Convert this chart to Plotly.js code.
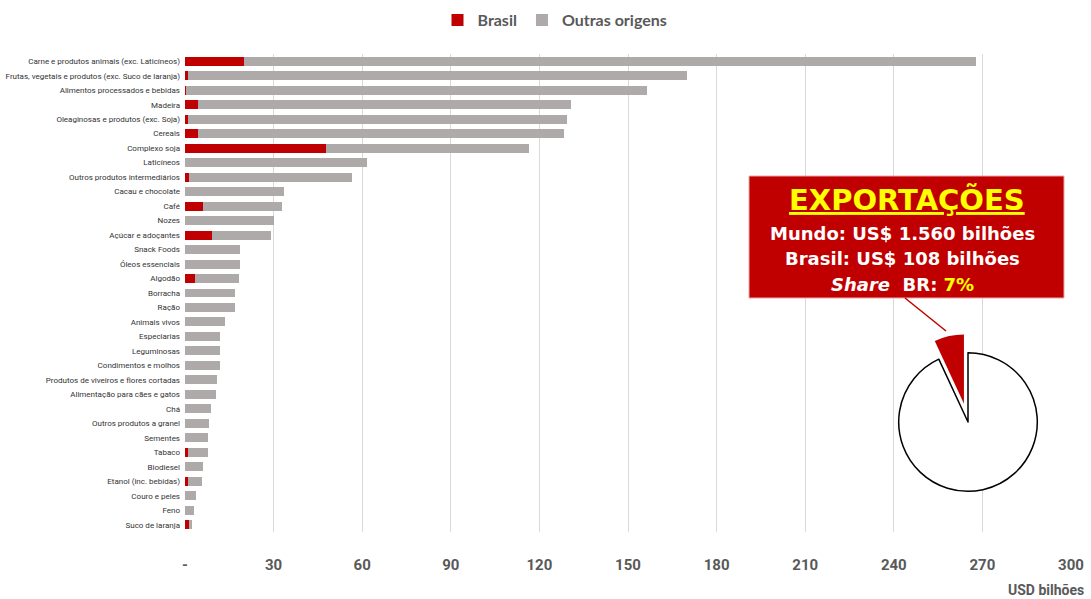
<!DOCTYPE html>
<html>
<head>
<meta charset="utf-8">
<script src="https://cdn.plot.ly/plotly-3.0.1.min.js"></script>
<style>html,body{margin:0;padding:0;background:#fff;}#chart{width:1091px;height:599px;}</style>
</head>
<body>
<div id="chart"></div>
<script>
const categories = [
  "Carne e produtos animais (exc. Laticíneos)",
  "Frutas, vegetais e produtos (exc. Suco de laranja)",
  "Alimentos processados e bebidas",
  "Madeira",
  "Oleaginosas e produtos (exc. Soja)",
  "Cereais",
  "Complexo soja",
  "Laticíneos",
  "Outros produtos intermediários",
  "Cacau e chocolate",
  "Café",
  "Nozes",
  "Açúcar e adoçantes",
  "Snack Foods",
  "Óleos essenciais",
  "Algodão",
  "Borracha",
  "Ração",
  "Animais vivos",
  "Especiarias",
  "Leguminosas",
  "Condimentos e molhos",
  "Produtos de viveiros e flores cortadas",
  "Alimentação para cães e gatos",
  "Chá",
  "Outros produtos a granel",
  "Sementes",
  "Tabaco",
  "Biodiesel",
  "Etanol (inc. bebidas)",
  "Couro e peles",
  "Feno",
  "Suco de laranja"
];
const brasil = [20, 1, 0.5, 4.4, 1, 4.4, 47.7, 0, 1.4, 0, 6.1, 0, 9.1, 0, 0, 3.4, 0, 0, 0, 0, 0, 0, 0, 0, 0, 0, 0, 1.1, 0, 1.1, 0, 0, 1.5];
const outras = [248, 169, 156, 126.4, 128.4, 123.9, 68.9, 61.6, 55.1, 33.4, 26.9, 30.0, 20.0, 18.6, 18.6, 14.8, 16.8, 16.8, 13.5, 12.0, 12.0, 12.0, 10.9, 10.5, 8.7, 8.1, 7.7, 6.6, 6.2, 4.7, 3.8, 2.9, 1.0];
const tickVals = [0, 30, 60, 90, 120, 150, 180, 210, 240, 270, 300];
const tickText = ["-", "30", "60", "90", "120", "150", "180", "210", "240", "270", "300"];
const pieLabels = ["Brasil", "Outras origens"];
const pieValues = [108, 1452];

const W = 1091, H = 599;
const M = {l: 185, r: 20, t: 54, b: 67, autoexpand: false};
const PW = W - M.l - M.r, PH = H - M.t - M.b;
const px = x => (x - M.l) / PW;
const py = y => (H - M.b - y) / PH;

const RED = "#C00000", GRAY = "#AEAAAA";
const condensed = "Roboto, Liberation Sans, sans-serif";
const brShareDeg = pieValues[0] / (pieValues[0] + pieValues[1]) * 360;

const traces = [
  {type: "bar", orientation: "h", name: "Brasil", y: categories, x: brasil,
   marker: {color: RED}, hoverinfo: "x+y"},
  {type: "bar", orientation: "h", name: "Outras origens", y: categories, x: outras,
   marker: {color: GRAY}, hoverinfo: "x+y"},
  {type: "pie", labels: pieLabels, values: pieValues, sort: false, direction: "clockwise",
   rotation: -brShareDeg, pull: [0.27, 0], textinfo: "none", hoverinfo: "none", showlegend: false,
   marker: {colors: [RED, "#FFFFFF"], line: {color: [RED, "#000000"], width: [0, 1.5]}},
   domain: {x: [px(968 - 88), px(968 + 88)], y: [py(422 + 88), py(422 - 88)]}}
];

const layout = {
  width: W, height: H,
  margin: M,
  paper_bgcolor: "#FFFFFF", plot_bgcolor: "#FFFFFF",
  barmode: "stack",
  bargap: 0.38,
  showlegend: true,
  legend: {orientation: "h", x: px(555), xanchor: "center", y: py(20), yanchor: "middle",
    font: {family: "Lato, Open Sans, sans-serif", size: 16, color: "#595959", weight: "bold"},
    itemwidth: 30, traceorder: "normal"},
  xaxis: {range: [0, 300], tickvals: tickVals, ticktext: tickText, showgrid: true,
    gridcolor: "#D9D9D9", gridwidth: 1, zeroline: false, showline: false, ticks: "",
    ticklabelstandoff: 22,
    tickfont: {family: condensed, size: 15, color: "#595959", weight: "bold"}},
  yaxis: {autorange: "reversed", showgrid: false, zeroline: false, showline: false, ticks: "",
    ticklabelstandoff: 4,
    tickfont: {family: condensed, size: 8, color: "#333333"}},
  shapes: [
    {type: "rect", xref: "paper", yref: "paper", x0: px(749), x1: px(1064), y0: py(298), y1: py(176),
     fillcolor: RED, line: {color: "#E8A8A8", width: 1}, layer: "above"},
    {type: "line", xref: "paper", yref: "paper", x0: px(905), y0: py(298), x1: px(946), y1: py(331),
     line: {color: RED, width: 1.5}}
  ],
  annotations: [
    {xref: "paper", yref: "paper", x: px(907), y: py(200), xanchor: "center", yanchor: "middle",
     showarrow: false, text: "<b><u>EXPORTAÇÕES</u></b>",
     font: {family: "DejaVu Sans, Verdana, sans-serif", size: 29, color: "#FFFF00"}},
    {xref: "paper", yref: "paper", x: px(902), y: py(233), xanchor: "center", yanchor: "middle",
     showarrow: false, text: "<b>Mundo: US$ 1.560 bilhões</b>",
     font: {family: "DejaVu Sans, Verdana, sans-serif", size: 18, color: "#FFFFFF"}},
    {xref: "paper", yref: "paper", x: px(902), y: py(258), xanchor: "center", yanchor: "middle",
     showarrow: false, text: "<b>Brasil: US$ 108 bilhões</b>",
     font: {family: "DejaVu Sans, Verdana, sans-serif", size: 18, color: "#FFFFFF"}},
    {xref: "paper", yref: "paper", x: px(902), y: py(284), xanchor: "center", yanchor: "middle",
     showarrow: false, text: "<b><i>Share</i>  BR: <span style='color:#FFFF00'>7%</span></b>",
     font: {family: "DejaVu Sans, Verdana, sans-serif", size: 18, color: "#FFFFFF"}},
    {xref: "paper", yref: "paper", x: px(1086), y: py(590), xanchor: "right", yanchor: "middle",
     showarrow: false, text: "USD bilhões",
     font: {family: condensed, size: 14, color: "#595959", weight: "bold"}}
  ]
};

Plotly.newPlot("chart", traces, layout, {displayModeBar: false, staticPlot: true});
</script>
</body>
</html>
